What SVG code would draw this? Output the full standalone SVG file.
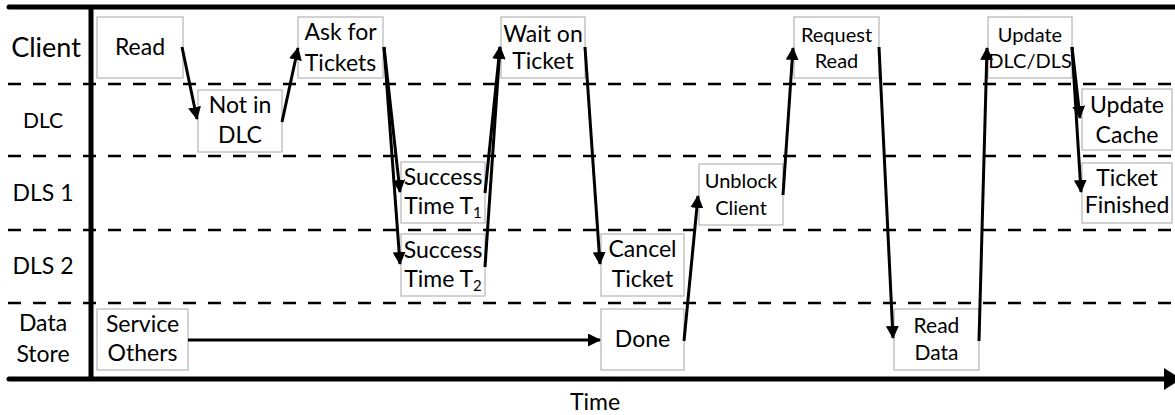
<svg xmlns="http://www.w3.org/2000/svg" width="1175" height="415" viewBox="0 0 1175 415">
<style>
text{font-family:Lato,"Open Sans","Liberation Sans",sans-serif;fill:#000;text-anchor:middle}
.t{font-size:23px}
.s{font-size:20px}
.lbl{font-size:23px}
.box{fill:#fff;stroke:#a6a6a6;stroke-width:1}
.dash{stroke:#000;stroke-width:2.6;stroke-dasharray:13 12;fill:none}
.axis{stroke:#000;stroke-width:5;fill:none}
.c{stroke:#000;stroke-width:3;fill:none;marker-end:url(#ah)}
.sub{font-size:15px}
</style>
<defs>
<marker id="ah" markerUnits="userSpaceOnUse" markerWidth="13" markerHeight="13" refX="12" refY="6.5" orient="auto">
<path d="M0,0 L13,6.5 L0,13 z" fill="#000"/>
</marker>
</defs>
<rect width="1175" height="415" fill="#fff"/>
<g id="frame">
<line class="dash" x1="8" y1="84" x2="1175" y2="84"/>
<line class="dash" x1="8" y1="156" x2="1175" y2="156"/>
<line class="dash" x1="8" y1="230" x2="1175" y2="230"/>
<line class="dash" x1="8" y1="303" x2="1175" y2="303"/>
<line class="axis" x1="9" y1="7" x2="1175" y2="7" stroke-linecap="round"/>
<line class="axis" x1="91" y1="5" x2="91" y2="381"/>
<line class="axis" x1="9" y1="379" x2="1168" y2="379" stroke-linecap="round"/>
<polygon points="1164,368 1181,379 1164,390" fill="#000"/>
<text x="595" y="410" class="t">Time</text>
</g>
<g id="lanes">
<text x="46" y="57" style="font-size:27px">Client</text>
<text x="43" y="128" style="font-size:21px">DLC</text>
<text x="43" y="201" class="lbl">DLS 1</text>
<text x="43" y="274" class="lbl">DLS 2</text>
<text x="43" y="331" class="lbl">Data</text>
<text x="43" y="362" class="lbl">Store</text>
</g>
<g id="read"><rect class="box" x="97" y="17" width="86" height="61"/><text x="140" y="55" class="t">Read</text></g>
<g id="notindlc"><rect class="box" x="198" y="90" width="84" height="62"/><text x="240" y="113" class="t">Not in</text><text x="240" y="143" class="t">DLC</text></g>
<g id="askfor"><rect class="box" x="298" y="17" width="85" height="61"/><text x="340.5" y="40" class="t">Ask for</text><text x="340.5" y="71" class="t">Tickets</text></g>
<g id="success1"><rect class="box" x="401" y="162" width="84" height="61"/><text x="443" y="185" class="t">Success</text><text x="443" y="214" class="t">Time T<tspan class="sub" dy="4">1</tspan></text></g>
<g id="success2"><rect class="box" x="401" y="234" width="84" height="62"/><text x="443" y="258" class="t">Success</text><text x="443" y="287" class="t">Time T<tspan class="sub" dy="4">2</tspan></text></g>
<g id="waiton"><rect class="box" x="501" y="17" width="84" height="61"/><text x="543" y="42" class="t">Wait on</text><text x="543" y="69" class="t">Ticket</text></g>
<g id="cancel"><rect class="box" x="601" y="234" width="83" height="62"/><text x="642.5" y="257" class="t">Cancel</text><text x="642.5" y="287" class="t">Ticket</text></g>
<g id="done"><rect class="box" x="601" y="309" width="83" height="61"/><text x="642.5" y="347" class="t">Done</text></g>
<g id="unblock"><rect class="box" x="699" y="164" width="84" height="61"/><text x="741" y="188" class="s">Unblock</text><text x="741" y="215" class="s">Client</text></g>
<g id="request"><rect class="box" x="794" y="17" width="85" height="61"/><text x="836.5" y="42" class="s">Request</text><text x="836.5" y="68" class="s">Read</text></g>
<g id="readdata"><rect class="box" x="894" y="309" width="85" height="61"/><text x="936.5" y="333" style="font-size:21px">Read</text><text x="936.5" y="360" style="font-size:21px">Data</text></g>
<g id="updatedlc"><rect class="box" x="988" y="17" width="84" height="61"/><text x="1030" y="42" class="s">Update</text><text x="1030" y="68" class="s">DLC/DLS</text></g>
<g id="updatecache"><rect class="box" x="1082" y="89" width="90" height="61"/><text x="1127" y="113" class="t">Update</text><text x="1127" y="143" class="t">Cache</text></g>
<g id="ticketfinished"><rect class="box" x="1082" y="163" width="90" height="60"/><text x="1127" y="186" class="t">Ticket</text><text x="1127" y="213" class="t">Finished</text></g>
<g id="service"><rect class="box" x="97" y="309" width="91" height="61"/><text x="142.5" y="332" class="t">Service</text><text x="142.5" y="361" class="t">Others</text></g>
<g id="connectors">
<line class="c" x1="182" y1="47" x2="197" y2="119"/>
<line class="c" x1="282" y1="122" x2="298" y2="48"/>
<line class="c" x1="384" y1="47" x2="400" y2="192"/>
<line class="c" x1="384" y1="47" x2="400" y2="264"/>
<line class="c" x1="485" y1="193" x2="500" y2="47"/>
<line class="c" x1="485" y1="267" x2="500" y2="47"/>
<line class="c" x1="585" y1="47" x2="600" y2="264"/>
<line class="c" x1="188" y1="340" x2="600" y2="340"/>
<line class="c" x1="684" y1="341" x2="698" y2="196"/>
<line class="c" x1="783" y1="195" x2="793" y2="48"/>
<line class="c" x1="879" y1="47" x2="893" y2="338"/>
<line class="c" x1="979" y1="341" x2="987" y2="48"/>
<line class="c" x1="1072" y1="47" x2="1080" y2="118"/>
<line class="c" x1="1072" y1="47" x2="1081" y2="192"/>
</g>
</svg>
